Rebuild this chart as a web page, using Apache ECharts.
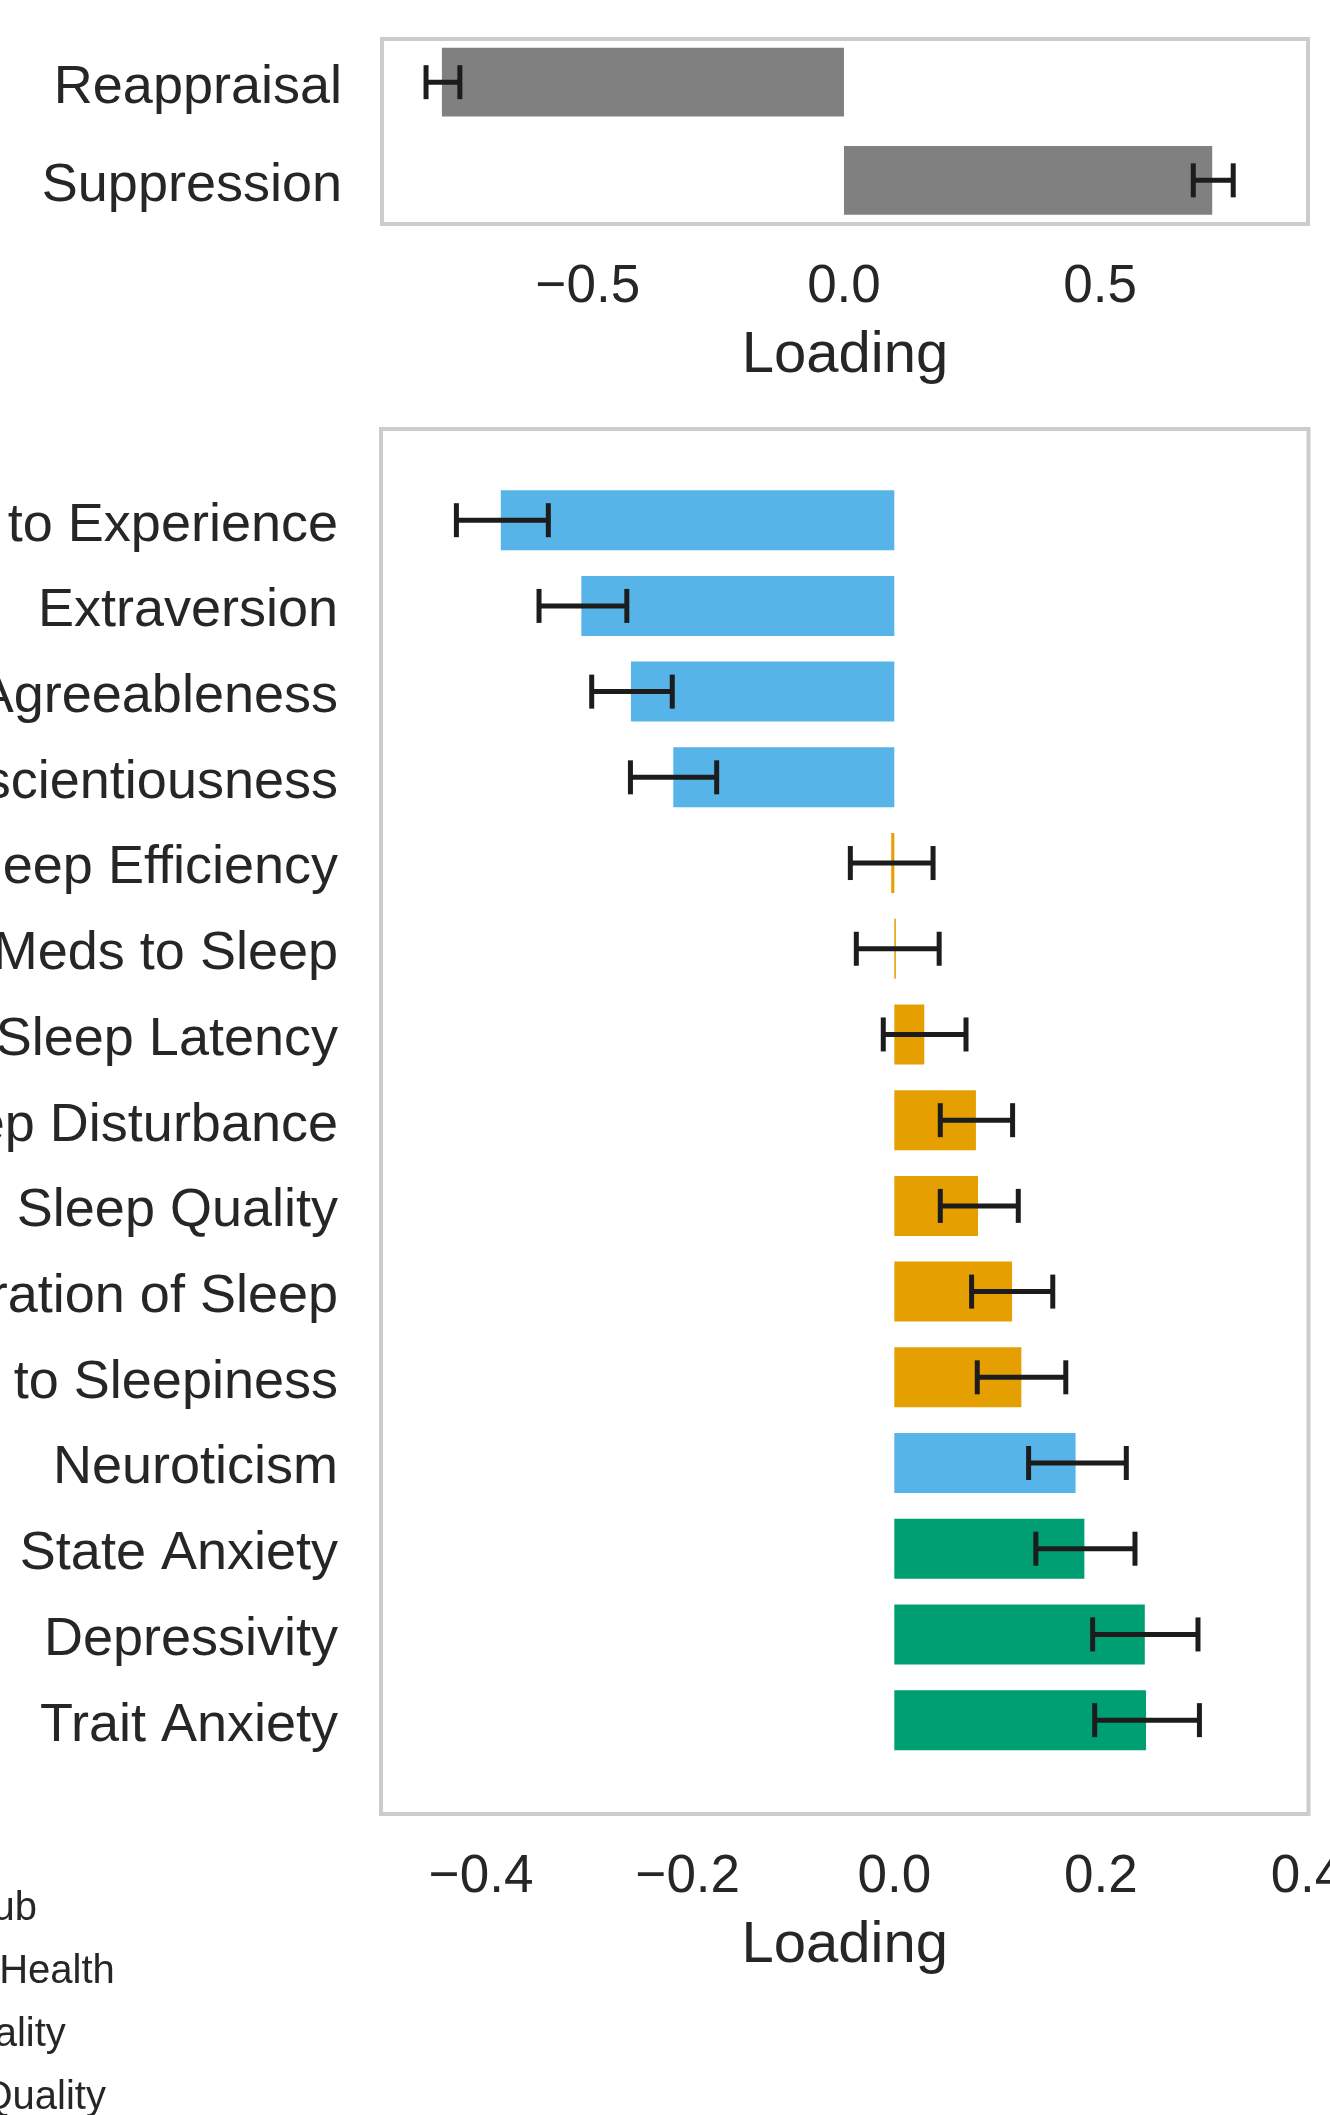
<!DOCTYPE html>
<html>
<head>
<meta charset="utf-8">
<title>Loadings</title>
<script src="https://cdn.jsdelivr.net/npm/echarts@6/dist/echarts.min.js"></script>
<style>
  html, body { margin: 0; padding: 0; background: #fff; }
  #chart { width: 1330px; height: 2115px; }
</style>
</head>
<body>
<div id="chart"></div>
<script>
// top panel: emotion regulation subscales
const erqNames = ['Reappraisal', 'Suppression']
const erqLoad = [-0.785, 0.719]
const erqLow = [-0.816, 0.682]
const erqHigh = [-0.750, 0.760]

// bottom panel: questionnaire scales, sorted by loading
const itemNames = [
  'Openness to Experience', 'Extraversion', 'Agreeableness', 'Conscientiousness',
  'Habitual Sleep Efficiency', 'Use of Meds to Sleep', 'Sleep Latency', 'Sleep Disturbance',
  'Subjective Sleep Quality', 'Duration of Sleep', 'Daytime Dysfunction due to Sleepiness',
  'Neuroticism', 'State Anxiety', 'Depressivity', 'Trait Anxiety'
]
const itemGroup = [
  'Personality', 'Personality', 'Personality', 'Personality',
  'Sleep Quality', 'Sleep Quality', 'Sleep Quality', 'Sleep Quality',
  'Sleep Quality', 'Sleep Quality', 'Sleep Quality',
  'Personality', 'Mental Health', 'Mental Health', 'Mental Health'
]
const itemLoad = [-0.381, -0.303, -0.255, -0.214, -0.003, 0.0015, 0.029, 0.079,
  0.081, 0.114, 0.123, 0.1755, 0.184, 0.2425, 0.2437]
const itemLow = [-0.424, -0.344, -0.293, -0.2555, -0.0426, -0.0368, -0.0107, 0.0445,
  0.0445, 0.0748, 0.0803, 0.130, 0.137, 0.192, 0.194]
const itemHigh = [-0.335, -0.259, -0.215, -0.172, 0.0375, 0.0434, 0.0694, 0.1145,
  0.120, 0.1534, 0.166, 0.2246, 0.233, 0.294, 0.2954]

const groupNames = ['ERQ Sub', 'Mental Health', 'Personality', 'Sleep Quality']
const groupColors = ['#808080', '#009E73', '#56B4E9', '#E69F00']

const topTicks = [-0.5, 0, 0.5]
const bottomTicks = [-0.4, -0.2, 0, 0.2, 0.4]

const textColor = '#262626'
const fontFamily = 'Liberation Sans, Arial, sans-serif'

function tickText (v) {
  return Number(v).toFixed(1).replace('-', '\u2212')
}

// horizontal bar drawn from 0 to the loading
function renderBar (params, api) {
  const c = api.value(1)
  const p0 = api.coord([0, c])
  const p1 = api.coord([api.value(0), c])
  const h = api.size([0, 0.7])[1]
  return {
    type: 'rect',
    shape: {
      x: Math.min(p0[0], p1[0]),
      y: p0[1] - h / 2,
      width: Math.abs(p1[0] - p0[0]),
      height: h
    },
    style: { fill: api.visual('color') }
  }
}

// confidence interval with caps
function renderErr (params, api) {
  const c = api.value(2)
  const a = api.coord([api.value(0), c])
  const b = api.coord([api.value(1), c])
  const cap = 17
  const st = { stroke: '#1c1c1c', lineWidth: 5 }
  return {
    type: 'group',
    children: [
      { type: 'line', shape: { x1: a[0], y1: a[1], x2: b[0], y2: b[1] }, style: st },
      { type: 'line', shape: { x1: a[0], y1: a[1] - cap, x2: a[0], y2: a[1] + cap }, style: st },
      { type: 'line', shape: { x1: b[0], y1: b[1] - cap, x2: b[0], y2: b[1] + cap }, style: st }
    ]
  }
}

function xAxisFor (gridIndex, min, max, ticks) {
  return {
    type: 'value',
    gridIndex: gridIndex,
    min: min,
    max: max,
    name: 'Loading',
    nameLocation: 'middle',
    nameGap: 103,
    nameTextStyle: { fontSize: 58, color: textColor, fontFamily: fontFamily },
    axisLine: { show: false, onZero: false },
    axisTick: { show: false },
    splitLine: { show: false },
    axisLabel: {
      customValues: ticks,
      margin: 37,
      fontSize: 53,
      color: textColor,
      fontFamily: fontFamily,
      formatter: tickText
    }
  }
}

function yAxisFor (gridIndex, min, max, names, margin) {
  return {
    type: 'value',
    gridIndex: gridIndex,
    inverse: true,
    min: min,
    max: max,
    axisLine: { show: false, onZero: false },
    axisTick: { show: false },
    splitLine: { show: false },
    axisLabel: {
      customValues: names.map((n, i) => i),
      margin: margin,
      color: textColor,
      fontFamily: fontFamily,
      formatter: (v) => '{l|' + (names[Math.round(v)] || '') + '}',
      rich: {
        l: { fontSize: 54, color: textColor, fontFamily: fontFamily, padding: [11, 0, 0, 0] }
      }
    }
  }
}

const series = []

series.push({
  name: groupNames[0],
  type: 'custom',
  xAxisIndex: 0,
  yAxisIndex: 0,
  itemStyle: { color: groupColors[0] },
  encode: { x: 0, y: 1 },
  renderItem: renderBar,
  data: erqLoad.map((v, i) => [v, i])
})

groupNames.slice(1).forEach((g, k) => {
  const data = []
  itemLoad.forEach((v, i) => {
    if (itemGroup[i] === g) data.push([v, i])
  })
  series.push({
    name: g,
    type: 'custom',
    xAxisIndex: 1,
    yAxisIndex: 1,
    itemStyle: { color: groupColors[k + 1] },
    encode: { x: 0, y: 1 },
    renderItem: renderBar,
    data: data
  })
})

series.push({
  name: 'erq-ci',
  type: 'custom',
  xAxisIndex: 0,
  yAxisIndex: 0,
  z: 5,
  encode: { x: [0, 1], y: 2 },
  renderItem: renderErr,
  data: erqLow.map((v, i) => [v, erqHigh[i], i])
})

series.push({
  name: 'item-ci',
  type: 'custom',
  xAxisIndex: 1,
  yAxisIndex: 1,
  z: 5,
  encode: { x: [0, 1], y: 2 },
  renderItem: renderErr,
  data: itemLow.map((v, i) => [v, itemHigh[i], i])
})

const option = {
  backgroundColor: '#fff',
  animation: false,
  textStyle: { fontFamily: fontFamily },
  grid: [
    { left: 382, top: 39, width: 926, height: 185, containLabel: false, outerBoundsMode: 'none', show: true, borderColor: '#cccccc', borderWidth: 4, backgroundColor: '#fff' },
    { left: 381, top: 429, width: 927.5, height: 1385, containLabel: false, outerBoundsMode: 'none', show: true, borderColor: '#cccccc', borderWidth: 4, backgroundColor: '#fff' }
  ],
  xAxis: [
    xAxisFor(0, -0.902, 0.906, topTicks),
    xAxisFor(1, -0.497, 0.401, bottomTicks)
  ],
  yAxis: [
    yAxisFor(0, -0.44, 1.445, erqNames, 40),
    yAxisFor(1, -1.064, 15.095, itemNames, 43)
  ],
  legend: {
    data: groupNames,
    orient: 'vertical',
    left: -167,
    top: 1884,
    height: 320,
    selectedMode: false,
    itemWidth: 25,
    itemHeight: 40,
    itemGap: 23,
    icon: 'rect',
    textStyle: { fontSize: 40, lineHeight: 40, color: textColor, fontFamily: fontFamily }
  },
  series: series
}

const chart = echarts.init(document.getElementById('chart'))
chart.setOption(option)
</script>
</body>
</html>
